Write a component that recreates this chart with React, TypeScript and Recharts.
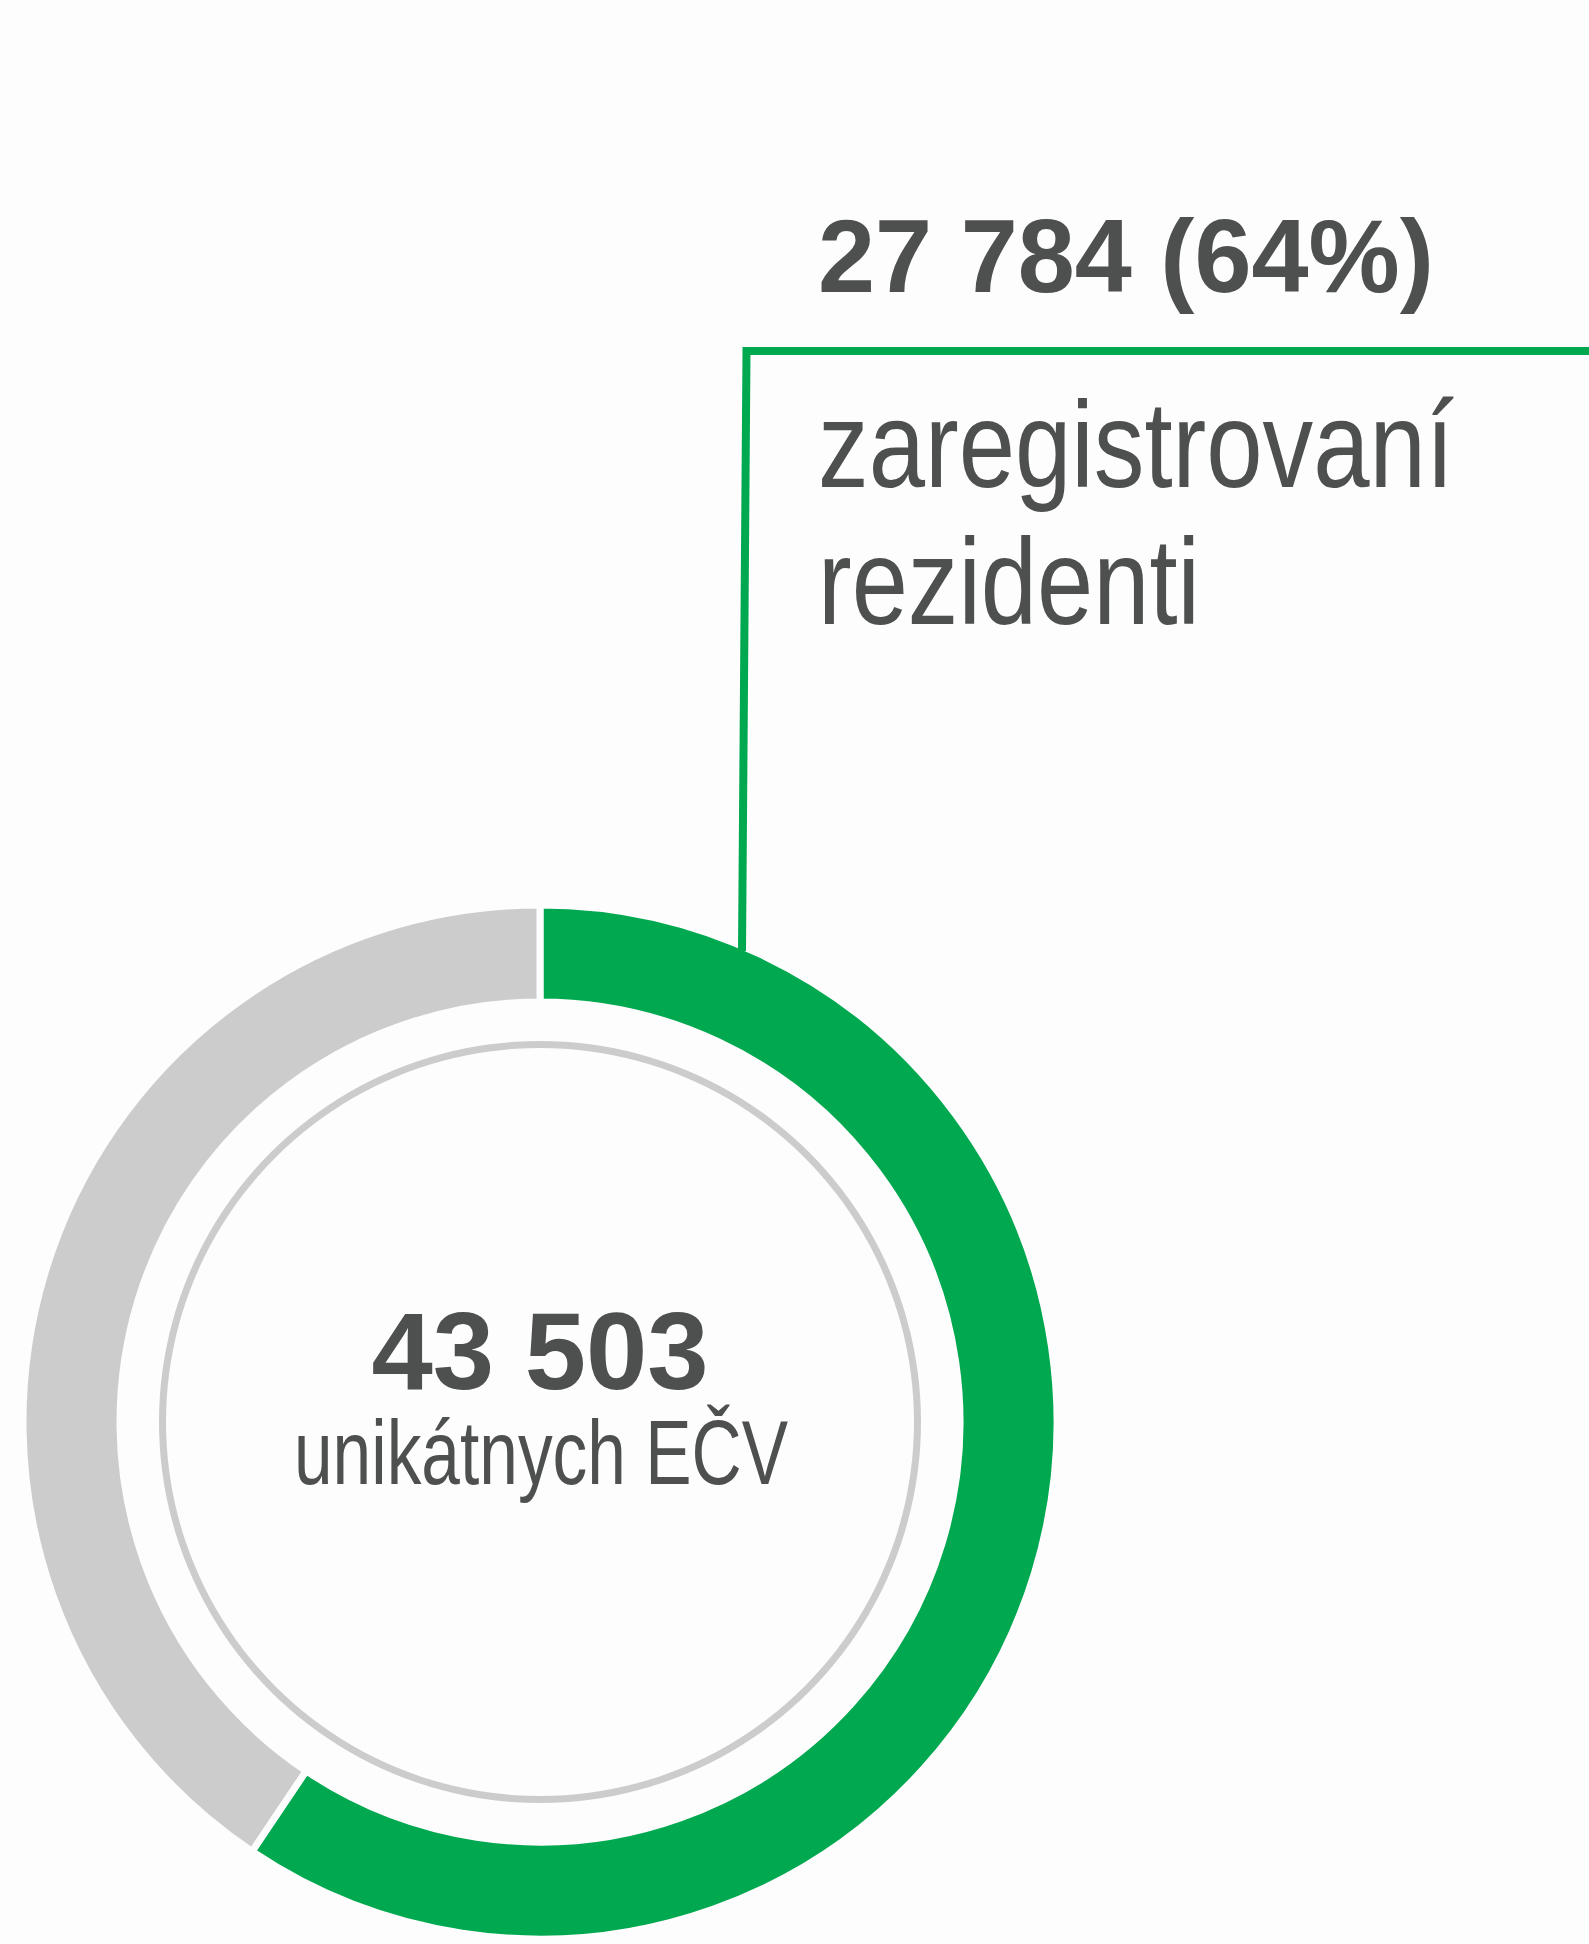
import { Pie, PieChart } from "recharts";

// counts shown in the labels
const TOTAL_PLATES = 43503;
const REGISTERED = 27784;
const REGISTERED_PCT = 64;

// arc shares as drawn in the donut (green = registered, gray = rest)
const ARC_NAMES = ["zaregistrovaní rezidenti", "ostatní"];
const ARC_SHARES = [59.4, 40.6];
const ARC_COLORS = ["#00a84f", "#cccccc"];

const LABEL_LINES = ["zaregistrovaní", "rezidenti"];
const CENTER_CAPTION = "unikátnych EČV";

const W = 1589;
const H = 1944;
const BG = "#fdfdfd";
const TEXT = "#4e5050";
const FONT = "'Liberation Sans Narrow', 'Liberation Sans', Arial, sans-serif";

function fmt(n: number) {
  return String(n).replace(/\B(?=(\d{3})+(?!\d))/g, " ");
}

const arcData = ARC_NAMES.map((name, i) => ({
  name,
  value: ARC_SHARES[i],
  fill: ARC_COLORS[i],
}));

const ringData = [{ name: "ring", value: 1, fill: "#cccccc" }];

export default function App() {
  return (
    <div
      style={{
        position: "absolute",
        left: 0,
        top: 0,
        width: W,
        height: H,
        background: BG,
      }}
    >
      <PieChart width={W} height={H} margin={{ top: 0, right: 0, bottom: 0, left: 0 }}>
        <Pie
          data={ringData}
          dataKey="value"
          cx={540}
          cy={1422}
          innerRadius={374}
          outerRadius={381}
          startAngle={90}
          endAngle={-270}
          stroke="none"
          isAnimationActive={false}
        />
        <Pie
          data={arcData}
          dataKey="value"
          nameKey="name"
          cx={540}
          cy={1422}
          innerRadius={420}
          outerRadius={517}
          startAngle={90}
          endAngle={-270}
          stroke={BG}
          strokeWidth={7}
          isAnimationActive={false}
        />
      </PieChart>
      <svg
        width={W}
        height={H}
        style={{ position: "absolute", left: 0, top: 0, pointerEvents: "none" }}
      >
        <polyline
          points="742,951 746.5,351 1589,351"
          fill="none"
          stroke="#00a84f"
          strokeWidth={8}
        />
        <text
          x={818}
          y={292}
          fontFamily={FONT}
          fontWeight="bold"
          fontSize={104}
          fill={TEXT}
          textLength={616}
          lengthAdjust="spacingAndGlyphs"
        >
          {`${fmt(REGISTERED)} (${REGISTERED_PCT}%)`}
        </text>
        <text
          x={818}
          y={487}
          fontFamily={FONT}
          fontSize={122}
          fill={TEXT}
          textLength={636}
          lengthAdjust="spacingAndGlyphs"
        >
          {LABEL_LINES[0]}
        </text>
        <text
          x={818}
          y={624}
          fontFamily={FONT}
          fontSize={122}
          fill={TEXT}
          textLength={382}
          lengthAdjust="spacingAndGlyphs"
        >
          {LABEL_LINES[1]}
        </text>
        <text
          x={540}
          y={1389}
          textAnchor="middle"
          fontFamily={FONT}
          fontWeight="bold"
          fontSize={110}
          fill={TEXT}
          textLength={337}
          lengthAdjust="spacingAndGlyphs"
        >
          {fmt(TOTAL_PLATES)}
        </text>
        <text
          x={541}
          y={1484}
          textAnchor="middle"
          fontFamily={FONT}
          fontSize={90}
          fill={TEXT}
          textLength={494}
          lengthAdjust="spacingAndGlyphs"
        >
          {CENTER_CAPTION}
        </text>
      </svg>
    </div>
  );
}
